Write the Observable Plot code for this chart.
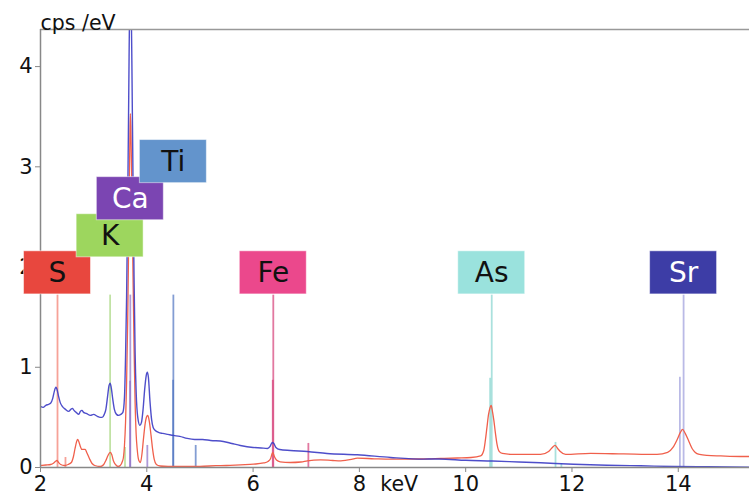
<!DOCTYPE html>
<html><head><meta charset="utf-8">
<script src="https://cdn.jsdelivr.net/npm/d3@7"></script>
<script src="https://cdn.jsdelivr.net/npm/@observablehq/plot@0.6"></script>
<style>body{margin:0;background:#fff}</style>
</head><body><div id="chart"></div>
<script>
// ---- data ----
const blueKeV = [2.00,2.05,2.10,2.15,2.19,2.23,2.26,2.29,2.31,2.34,2.37,2.41,2.47,2.53,2.57,2.60,2.63,2.67,2.72,2.75,2.78,2.81,2.86,2.94,3.00,3.07,3.12,3.16,3.20,3.23,3.26,3.29,3.31,3.33,3.36,3.39,3.43,3.47,3.51,3.55,3.58,3.60,3.62,3.64,3.66,3.68,3.69,3.70,3.72,3.74,3.76,3.78,3.80,3.83,3.87,3.90,3.93,3.96,3.99,4.01,4.03,4.06,4.09,4.12,4.16,4.22,4.30,4.40,4.50,4.62,4.76,4.90,5.05,5.20,5.44,5.60,5.76,6.00,6.15,6.27,6.32,6.36,6.39,6.43,6.50,6.70,7.02,7.39,7.96,8.59,9.21,9.50,10.00,10.50,11.00,11.41,12.03,12.66,13.29,13.92,14.54,15.34];
const blueCps = [0.61,0.60,0.62,0.63,0.64,0.69,0.76,0.80,0.78,0.71,0.65,0.61,0.58,0.56,0.58,0.59,0.57,0.55,0.53,0.56,0.57,0.55,0.54,0.52,0.53,0.51,0.50,0.50,0.53,0.58,0.70,0.82,0.84,0.80,0.68,0.58,0.53,0.52,0.53,0.55,0.70,1.10,1.70,2.60,3.70,4.80,5.10,4.90,4.00,2.90,1.90,1.15,0.75,0.50,0.42,0.45,0.58,0.78,0.92,0.95,0.90,0.66,0.48,0.40,0.37,0.35,0.34,0.33,0.32,0.31,0.29,0.28,0.28,0.27,0.26,0.24,0.22,0.20,0.195,0.19,0.21,0.25,0.24,0.20,0.18,0.17,0.16,0.14,0.127,0.10,0.084,0.085,0.072,0.065,0.055,0.047,0.033,0.023,0.017,0.010,0.007,0.004];

const redKeV = [2.00,2.10,2.19,2.25,2.29,2.31,2.34,2.38,2.45,2.52,2.58,2.62,2.65,2.68,2.70,2.72,2.75,2.78,2.81,2.84,2.87,2.92,2.97,3.02,3.13,3.19,3.23,3.27,3.31,3.34,3.37,3.41,3.46,3.50,3.54,3.56,3.58,3.60,3.62,3.64,3.66,3.68,3.69,3.70,3.72,3.74,3.76,3.78,3.80,3.82,3.85,3.88,3.91,3.94,3.97,4.00,4.02,4.05,4.08,4.11,4.14,4.18,4.25,4.40,4.60,4.80,5.00,5.30,5.50,5.76,6.01,6.20,6.28,6.33,6.37,6.40,6.44,6.51,6.70,6.90,7.02,7.27,7.50,7.65,7.85,7.96,8.28,8.60,8.90,9.20,9.53,9.84,10.10,10.28,10.34,10.37,10.40,10.43,10.46,10.48,10.50,10.53,10.56,10.59,10.63,10.69,10.90,11.20,11.41,11.56,11.63,11.68,11.73,11.78,11.88,12.35,12.97,13.60,13.80,13.90,13.98,14.04,14.08,14.13,14.20,14.26,14.32,14.40,14.54,14.80,15.17,15.34];
const redCps = [0.02,0.025,0.03,0.045,0.065,0.07,0.05,0.03,0.02,0.03,0.05,0.11,0.19,0.26,0.28,0.26,0.21,0.18,0.18,0.18,0.15,0.09,0.04,0.02,0.01,0.03,0.07,0.12,0.15,0.13,0.07,0.03,0.01,0.02,0.06,0.10,0.22,0.45,0.85,1.45,2.30,3.20,3.53,3.40,2.75,1.95,1.20,0.65,0.33,0.18,0.07,0.05,0.14,0.30,0.44,0.51,0.52,0.45,0.32,0.18,0.08,0.03,0.015,0.01,0.01,0.012,0.012,0.018,0.02,0.027,0.033,0.045,0.06,0.09,0.15,0.11,0.075,0.057,0.05,0.055,0.067,0.077,0.07,0.067,0.08,0.093,0.087,0.083,0.085,0.085,0.09,0.095,0.10,0.115,0.17,0.27,0.40,0.53,0.60,0.62,0.57,0.47,0.34,0.23,0.16,0.14,0.13,0.13,0.13,0.16,0.20,0.22,0.19,0.16,0.13,0.14,0.135,0.13,0.15,0.20,0.28,0.35,0.38,0.34,0.26,0.19,0.15,0.13,0.12,0.115,0.11,0.11];

const elements   = ["S","K","Ca","Ti","Fe","As","Sr"];
const elementKeV = [2.32,3.31,3.69,4.50,6.38,10.49,14.10];
const labelTier  = [0,1,2,3,0,0,0];
const boxColors  = ["#e8473e","#9dd65e","#7b45b2","#6394cc","#eb488c","#9ae2dd","#3d3da6"];
const textColors = ["#111","#111","#fff","#111","#111","#111","#fff"];
const lineColors = ["#f27a6c","#a6d67e","#8c6ec8","#4f74c0","#d63e78","#86d4ce","#9c9cdc"];

// emission lines: energy, relative height, element index
const lineKeV    = [2.32,2.47,3.31,3.59,3.69,3.685,4.01,4.50,4.495,4.92,6.38,6.37,7.04,10.49,10.46,11.69,11.80,14.10,14.03];
const lineHeight = [1.72,0.10,1.72,0.20,1.72,0.86,0.22,1.72,0.87,0.22,1.72,0.87,0.24,1.72,0.89,0.25,0.04,1.72,0.90];
const lineElem   = [0,0,1,1,2,2,2,3,3,3,4,4,4,5,5,5,5,6,6];

const yTicks = [0,1,2,3,4];
const xTicks = [2,4,6,8,10,12,14];
const yLabel = "cps /eV";
const xLabel = "keV";

// ---- tables ----
const blue = blueKeV.map((k,i)=>({k, v: blueCps[i]}));
const red  = redKeV.map((k,i)=>({k, v: redCps[i]}));
const labels = elements.map((name,i)=>({name, e: elementKeV[i], tier: labelTier[i], fill: boxColors[i], tc: textColors[i]}));
const lines = lineKeV.map((e,i)=>({e, h: lineHeight[i], c: lineColors[lineElem[i]]}));

const BOX_W = 0.63, BOX_H = 0.43, BASE = 1.727, STEP = 0.37;
const yMax = 4.37;

const chart = Plot.plot({
  width: 749, height: 503,
  marginLeft: 40, marginRight: 0, marginTop: 29, marginBottom: 36,
  x: {domain: [2, 15.34]},
  y: {domain: [0, yMax]},
  color: {type: "identity"},
  style: {fontFamily: "'DejaVu Sans', Verdana, sans-serif", fontSize: "21px", color: "#111", background: "#fff"},
  marks: [
    Plot.axisY({ticks: yTicks, tickFormat: "d", tickSize: 5, tickPadding: 3, label: null, stroke: "#888", fill: "#111", fontSize: 21}),
    Plot.axisX({ticks: xTicks, tickFormat: "d", tickSize: 5, tickPadding: 4, label: null, stroke: "#888", fill: "#111", fontSize: 21}),
    Plot.ruleX(lines, {x: "e", y1: 0, y2: "h", stroke: "c", strokeWidth: 1.8, strokeOpacity: 0.7}),
    Plot.line(red, {x: "k", y: "v", stroke: "#f0604c", strokeWidth: 1.3, curve: "monotone-x", clip: true}),
    Plot.line(blue, {x: "k", y: "v", stroke: "#3b3bc4", strokeWidth: 1.4, strokeOpacity: 0.9, curve: "monotone-x", clip: true}),
    Plot.ruleY([yMax], {stroke: "#999", strokeWidth: 1.5}),
    Plot.ruleX([2], {stroke: "#888", strokeWidth: 1.5}),
    Plot.ruleY([0], {stroke: "#888", strokeWidth: 1.5}),
    Plot.rect(labels, {x1: d=>d.e-BOX_W, x2: d=>d.e+BOX_W, y1: d=>BASE+STEP*d.tier, y2: d=>BASE+STEP*d.tier+BOX_H, fill: "fill", stroke: "#fff", strokeOpacity: 0.5, strokeWidth: 1}),
    Plot.text(labels, {x: "e", y: d=>BASE+STEP*d.tier+BOX_H/2, text: "name", fill: "tc", fontSize: 28}),
    Plot.text([yLabel], {frameAnchor: "top-left", text: d=>d, textAnchor: "start", dy: -14, fontSize: 20.5, fill: "#111"}),
    Plot.text([xLabel], {x: [8.75], frameAnchor: "bottom", text: d=>d, dy: 23, fontSize: 20.5, fill: "#111"})
  ]
});
document.getElementById("chart").appendChild(chart);
</script>
</body></html>
